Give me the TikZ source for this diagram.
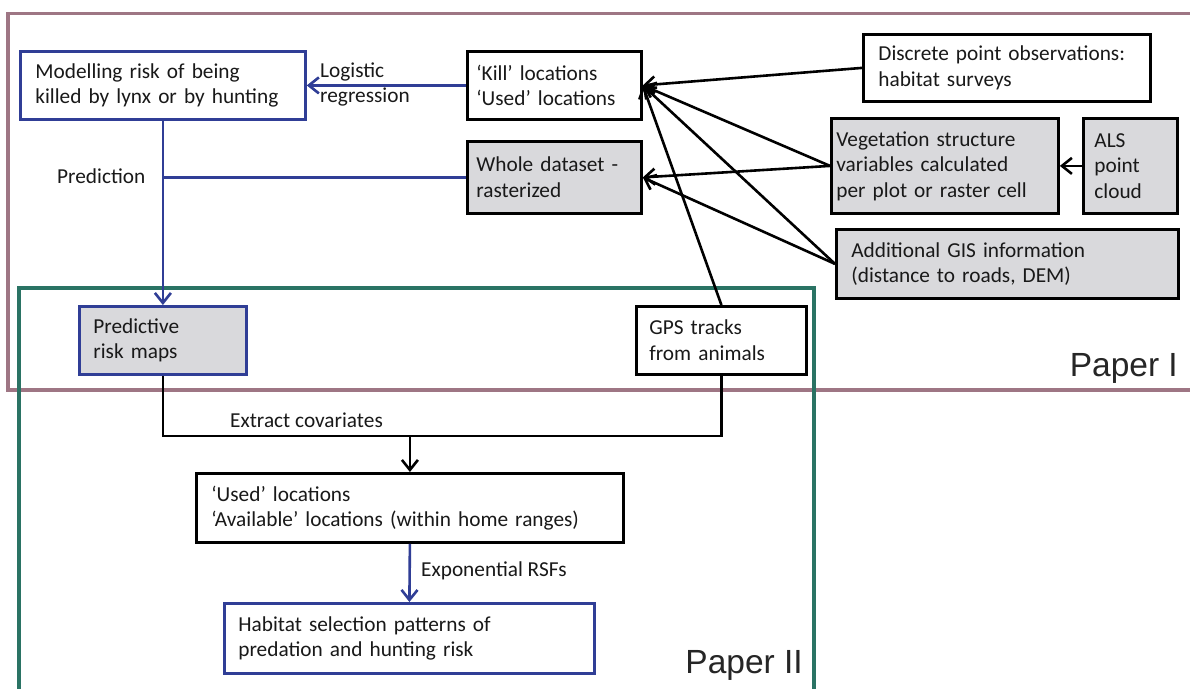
\documentclass[tikz,border=0pt]{standalone}
\usepackage{fontspec}
\setmainfont{Carlito}
\newfontfamily\arialfont{Liberation Sans}
\usetikzlibrary{arrows.meta}
\definecolor{boxblue}{RGB}{48,62,150}
\definecolor{mauve}{RGB}{158,118,132}
\definecolor{tealc}{RGB}{42,115,100}
\definecolor{boxgray}{RGB}{217,217,220}
\begin{document}
\begin{tikzpicture}[x=1pt,y=-1pt,
  every node/.style={font=\fontsize{21.3}{25.5}\selectfont, text=black!90},
  box/.style={draw=black, line width=2.8pt, fill=white, inner xsep=0pt, inner ysep=0pt, anchor=north west, align=left},
  bluebox/.style={box, draw=boxblue},
  graybox/.style={box, fill=boxgray},
  lbl/.style={inner sep=0pt, align=left},
  paper/.style={inner sep=0pt, anchor=base east, font=\arialfont\fontsize{33.5}{33.5}\selectfont, text=black!85},
  ln/.style={line width=2.6pt},
  arr/.style={ln, -{Straight Barb[length=10pt,width=16pt]}}]
\useasboundingbox (0,0) rectangle (1190,688);
\clip (0,0) rectangle (1190,688);
\fill[white] (0,0) rectangle (1190,688);
% frames
\draw[mauve, line width=3.6pt] (7.7,13.3) rectangle (1210,390);
\draw[tealc, line width=3.8pt] (19,288) rectangle (814,700);
% nodes
\node[bluebox, minimum width=285pt, minimum height=68pt, text width=255pt] (model) at (19,50)
  {\mbox{Modelling risk of being}\\\mbox{killed by lynx or by hunting}};
\node[box, minimum width=174pt, minimum height=68pt, text width=156pt] (kill) at (466,50)
  {\mbox{‘Kill’ locations}\\\mbox{‘Used’ locations}};
\node[graybox, minimum width=174pt, minimum height=72pt, text width=156pt] (whole) at (466,140)
  {\mbox{Whole dataset -}\\\mbox{rasterized}};
\node[box, minimum width=287pt, minimum height=67pt, text width=257pt] (disc) at (862,33)
  {\mbox{Discrete point observations:}\\\mbox{habitat surveys}};
\node[graybox, minimum width=227pt, minimum height=95pt, text width=217pt] (veg) at (830,117)
  {\mbox{Vegetation structure}\\\mbox{variables calculated}\\\mbox{per plot or raster cell}};
\node[graybox, minimum width=94pt, minimum height=95pt, text width=72pt] (als) at (1082,117)
  {\mbox{ALS}\\\mbox{point}\\\mbox{cloud}};
\node[graybox, minimum width=342pt, minimum height=69pt, text width=312pt] (gis) at (835,228)
  {\mbox{Additional GIS information}\\\mbox{(distance to roads, DEM)}};
\node[bluebox, fill=boxgray, minimum width=167pt, minimum height=68pt, text width=139pt] (pred) at (78,305)
  {\mbox{Predictive}\\\mbox{risk maps}};
\node[box, minimum width=170pt, minimum height=68pt, text width=144pt] (gps) at (635,305)
  {\mbox{GPS tracks}\\\mbox{from animals}};
\node[box, minimum width=427pt, minimum height=69pt, text width=397pt] (used) at (195,472)
  {\mbox{‘Used’ locations}\\\mbox{‘Available’ locations (within home ranges)}};
\node[bluebox, minimum width=370pt, minimum height=70pt, text width=342pt] (hab) at (223,602)
  {\mbox{Habitat selection patterns of}\\\mbox{predation and hunting risk}};
% paper labels
\node[paper] (p1) at (1178,376) {Paper I};
\node[paper] (p2) at (803,673) {Paper II};
% edge labels
\node[lbl, anchor=west] (lg) at (320,84.5) {Logistic\\regression};
\node[lbl, anchor=west] (pr) at (57,176) {Prediction};
\node[lbl, anchor=west] (ex) at (230,420) {Extract covariates};
\node[lbl, anchor=west] (rsf) at (421,571) {Exponential RSFs};
% connectors
\draw[arr, boxblue] (kill.west) -- (model.east);
\draw[arr, boxblue] (model.south) -- (pred.north);
\draw[ln, boxblue] (whole.west) -- (model.south |- whole.west);
\draw[arr] (disc.west) -- (kill.east);
\draw[arr] (veg.west) -- (kill.east);
\draw[arr] (gis.west) -- (kill.east);
\draw[arr] (gps.north) -- (kill.east);
\draw[arr] (veg.west) -- (whole.east);
\draw[arr] (gis.west) -- (whole.east);
\draw[arr] (als.west) -- (veg.east);
\coordinate (j) at (used.north |- 0,436);
\draw[ln] (pred.south) |- (j) -| (gps.south);
\draw[arr] (j) -- (used.north);
\draw[arr, boxblue] (used.south) -- (hab.north);
\end{tikzpicture}
\end{document}
